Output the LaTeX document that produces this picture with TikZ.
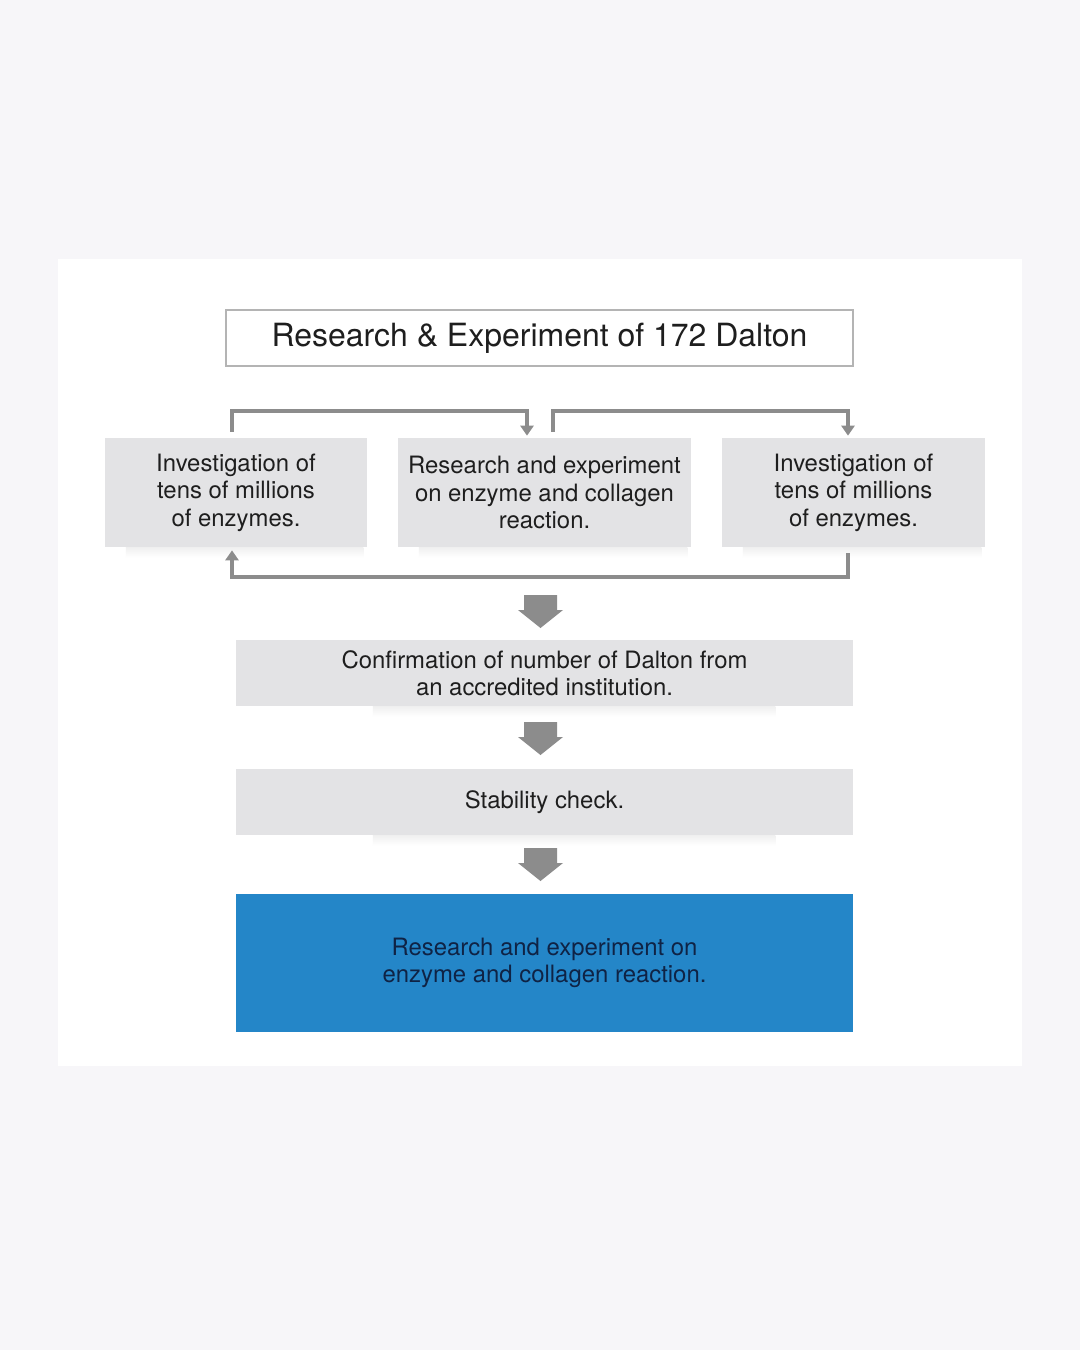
\documentclass[tikz,border=0pt]{standalone}
\usepackage{fontspec}
\setmainfont{TeX Gyre Heros}
\usetikzlibrary{positioning,arrows.meta}

\definecolor{pagebg}{HTML}{F7F6F9}
\definecolor{boxgray}{HTML}{E3E3E5}
\definecolor{linegray}{HTML}{8C8C8C}
\definecolor{framegray}{HTML}{B4B4B4}
\definecolor{stepblue}{HTML}{2486C8}
\definecolor{ink}{HTML}{1E1E1E}
\definecolor{navy}{HTML}{0F2345}

\begin{document}
\begin{tikzpicture}[x=0.02cm, y=-0.02cm, font=\fontsize{13.6}{15.6}\selectfont,
  stepbox/.style={fill=boxgray, text=ink, align=center, inner sep=0pt},
  link/.style={draw=linegray, line width=0.08cm, -{Triangle[width=0.26cm,length=0.2cm]}}]
  % Page and panel
  \fill[pagebg] (0,0) rectangle (1080,1350);
  \fill[white] (58,259) rectangle (1022,1066);
  \useasboundingbox (0,0) rectangle (1080,1350);
  % Title
  \node[draw=framegray, line width=0.03cm, fill=white, text=ink, minimum width=12.54cm, minimum height=1.12cm,
    font=\fontsize{18.2}{22}\selectfont] (title) at (539.5,338) {Research \& Experiment of 172 Dalton};
  % Row of three
  \node[stepbox, minimum width=5.24cm, minimum height=2.18cm] (inv1) at (236,492.5)
    {Investigation of\\tens of millions\\of enzymes.};
  \node[stepbox, minimum width=5.86cm, minimum height=2.18cm] (res) at (544.5,492.5)
    {Research and experiment\\on enzyme and collagen\\reaction.};
  \node[stepbox, minimum width=5.26cm, minimum height=2.18cm] (inv2) at (853.5,492.5)
    {Investigation of\\tens of millions\\of enzymes.};
  % Steps
  \node[stepbox, minimum width=12.34cm, minimum height=1.32cm] (conf) at (544.5,673)
    {Confirmation of number of Dalton from\\an accredited institution.};
  \node[stepbox, minimum width=12.34cm, minimum height=1.32cm] (stab) at (544.5,802)
    {Stability check.};
  \node[stepbox, fill=stepblue, text=navy, minimum width=12.34cm, minimum height=2.76cm] (final) at (544.5,963)
    {Research and experiment on\\enzyme and collagen reaction.};
  % Soft shadows
  \foreach \n in {inv1,res,inv2}
    \shade[top color=black!6, bottom color=white] ([xshift=12]\n.south west) rectangle ([shift={(-4,10)}]\n.south east);
  \foreach \n in {conf,stab}
    \shade[top color=black!6, bottom color=white] ([xshift=78]\n.south west) rectangle ([shift={(-78,10)}]\n.south east);
  % Loop connectors
  \draw[link] ([shift={(-4,-6)}]inv1.north) -- ++(0,-21) -| ([shift={(-17.5,-2)}]res.north);
  \draw[link] ([shift={(8.5,-6)}]res.north) -- ++(0,-21) -| ([shift={(-5.5,-2)}]inv2.north);
  \draw[link] ([shift={(-5.5,6)}]inv2.south) -- ++(0,24) -| ([shift={(-4,3)}]inv1.south);
  % Block arrows
  \foreach \y in {595,722,848}
    \fill[linegray] (524,\y) -- (557,\y) -- (557,\y+15) -- (563,\y+15) -- (540.5,\y+33)
      -- (518,\y+15) -- (524,\y+15) -- cycle;
\end{tikzpicture}
\end{document}
